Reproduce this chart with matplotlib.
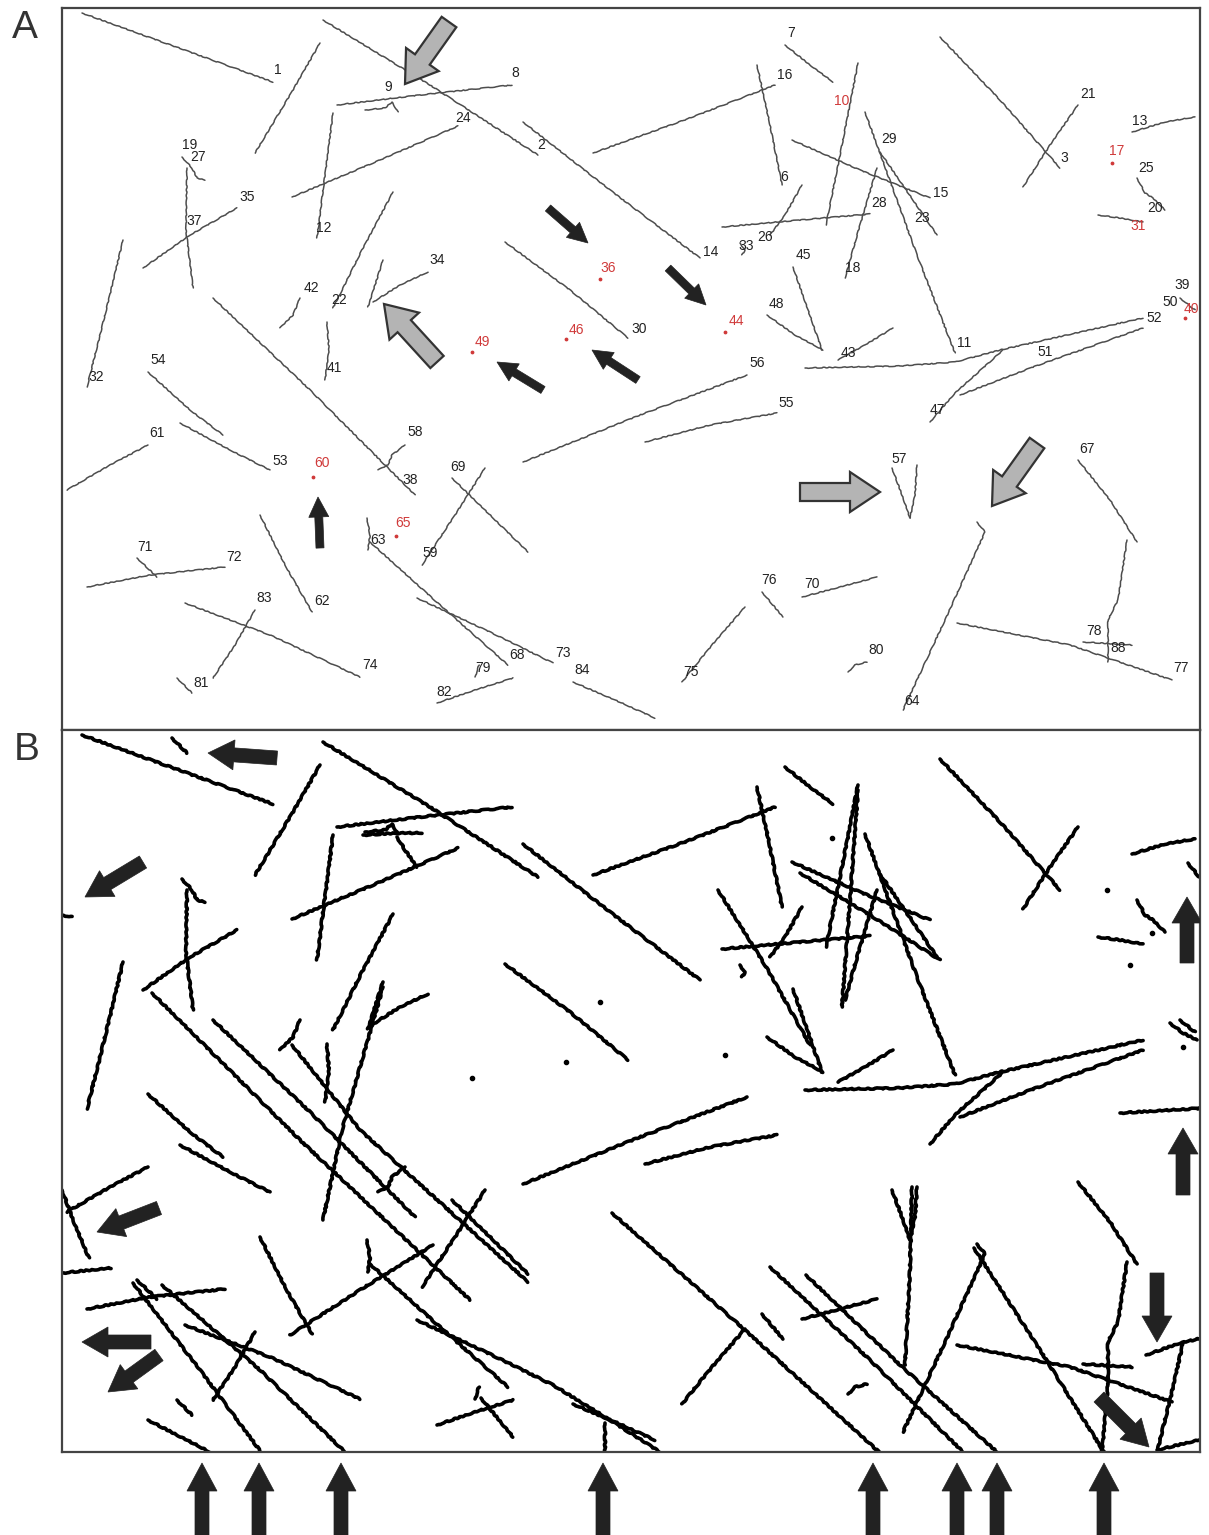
import matplotlib
matplotlib.use("Agg")
import matplotlib.pyplot as plt
from matplotlib.patches import FancyArrow

plt.rcParams['font.family'] = ['Liberation Sans', 'DejaVu Sans']

# Panel frames in figure pixels (left, top, right, bottom)
PANEL_A = (62, 8, 1200, 730)
PANEL_B = (62, 730, 1200, 1452)
B_SHIFT = 722  # panel B shows the same field, one frame later

# --- panel A: traced filaments (pixel coords of the image) ---
fil_a = [
    [(82, 13), (273, 82)],
    [(320, 43), (290, 95), (255, 153)],
    [(323, 20), (430, 85), (538, 155)],
    [(523, 122), (610, 190), (700, 258)],
    [(337, 105), (420, 95), (512, 85)],
    [(365, 110), (385, 108), (392, 102), (398, 112)],
    [(333, 113), (325, 175), (317, 238)],
    [(292, 197), (380, 160), (458, 126)],
    [(187, 168), (186, 230), (193, 288)],
    [(182, 157), (192, 168), (197, 178), (205, 180)],
    [(143, 268), (190, 235), (237, 208)],
    [(393, 192), (362, 250), (333, 308)],
    [(123, 240), (105, 315), (87, 387)],
    [(300, 298), (293, 315), (280, 328)],
    [(327, 322), (329, 350), (325, 380)],
    [(383, 260), (368, 307)],
    [(373, 302), (400, 285), (428, 272)],
    [(213, 298), (310, 390), (415, 495)],
    [(148, 372), (190, 410), (223, 435)],
    [(180, 423), (230, 450), (270, 470)],
    [(148, 445), (110, 465), (67, 490)],
    [(405, 445), (392, 455), (388, 465), (378, 470)],
    [(87, 587), (150, 575), (225, 567)],
    [(137, 558), (157, 577)],
    [(260, 515), (285, 565), (312, 612)],
    [(185, 603), (270, 635), (360, 677)],
    [(255, 610), (235, 645), (213, 678)],
    [(177, 678), (192, 693)],
    [(367, 518), (370, 535), (368, 550)],
    [(370, 542), (440, 605), (508, 665)],
    [(417, 598), (490, 632), (553, 663)],
    [(485, 468), (455, 515), (422, 565)],
    [(452, 478), (490, 515), (528, 552)],
    [(437, 703), (475, 690), (513, 678)],
    [(475, 677), (479, 665)],
    [(573, 682), (615, 700), (655, 718)],
    [(745, 607), (712, 645), (682, 682)],
    [(762, 592), (783, 617)],
    [(802, 597), (840, 587), (877, 577)],
    [(892, 468), (902, 495), (910, 518)],
    [(917, 465), (915, 495), (910, 518)],
    [(977, 522), (985, 532), (945, 620), (903, 710)],
    [(848, 672), (855, 665), (867, 662)],
    [(957, 623), (1070, 645), (1172, 680)],
    [(1078, 460), (1110, 500), (1137, 542)],
    [(1127, 540), (1118, 600), (1108, 620), (1108, 662)],
    [(1083, 642), (1132, 645)],
    [(893, 328), (865, 345), (838, 360)],
    [(805, 368), (900, 366), (955, 362), (1000, 350), (1143, 318)],
    [(960, 395), (1033, 367), (1143, 328)],
    [(930, 422), (955, 393), (1003, 350)],
    [(1180, 298), (1195, 310)],
    [(858, 63), (842, 145), (826, 225)],
    [(865, 112), (917, 255), (955, 353)],
    [(880, 152), (937, 235)],
    [(877, 168), (860, 225), (845, 278)],
    [(792, 140), (860, 170), (930, 198)],
    [(722, 227), (800, 220), (870, 214)],
    [(757, 65), (770, 125), (782, 185)],
    [(593, 153), (690, 118), (775, 85)],
    [(785, 45), (810, 65), (833, 82)],
    [(802, 185), (785, 215), (770, 235)],
    [(740, 243), (745, 250), (742, 255)],
    [(940, 37), (1000, 100), (1060, 168)],
    [(1078, 105), (1050, 145), (1023, 187)],
    [(1132, 132), (1165, 122), (1195, 117)],
    [(1137, 178), (1145, 193), (1153, 198), (1165, 210)],
    [(1098, 215), (1120, 218), (1143, 222)],
    [(793, 267), (808, 310), (822, 350)],
    [(767, 315), (795, 335), (823, 350)],
    [(505, 242), (570, 290), (628, 338)],
    [(523, 462), (640, 415), (747, 375)],
    [(645, 442), (710, 425), (777, 413)],
]

# filament numbers, black
labels_a = [
    ("1", 278, 70), ("9", 388, 87), ("8", 515, 73), ("24", 463, 118), ("2", 541, 145),
    ("19", 190, 145), ("27", 198, 157), ("35", 247, 197), ("37", 194, 221), ("12", 324, 228),
    ("7", 791, 33), ("16", 785, 75), ("21", 1088, 94), ("13", 1140, 121), ("29", 889, 139),
    ("3", 1064, 158), ("25", 1146, 168), ("6", 784, 177), ("15", 941, 193), ("28", 879, 203),
    ("23", 922, 218), ("20", 1155, 208), ("26", 765, 237), ("33", 746, 246), ("14", 711, 252),
    ("45", 803, 255), ("18", 853, 268), ("34", 437, 260), ("42", 311, 288), ("22", 339, 300),
    ("48", 776, 304), ("39", 1182, 285), ("50", 1170, 302), ("52", 1154, 318), ("30", 639, 329),
    ("11", 964, 343), ("43", 848, 353), ("51", 1045, 352), ("41", 334, 368), ("32", 96, 377),
    ("56", 757, 363), ("54", 158, 360), ("55", 786, 403), ("47", 937, 410), ("61", 157, 433),
    ("58", 415, 432), ("53", 280, 461), ("69", 458, 467), ("57", 899, 459), ("38", 410, 480),
    ("67", 1087, 449), ("63", 378, 540), ("59", 430, 553), ("71", 145, 547), ("72", 234, 557),
    ("76", 769, 580), ("70", 812, 584), ("83", 264, 598), ("62", 322, 601), ("78", 1094, 631),
    ("88", 1118, 648), ("74", 370, 665), ("68", 517, 655), ("73", 563, 653), ("80", 876, 650),
    ("77", 1181, 668), ("79", 483, 668), ("84", 582, 670), ("75", 691, 672), ("81", 201, 683),
    ("82", 444, 692), ("64", 912, 701),
]
# filament numbers in red (dots with no filament left)
labels_a_red = [
    ("10", 842, 101), ("17", 1117, 151), ("31", 1138, 226), ("36", 608, 268), ("40", 1191, 309),
    ("44", 736, 321), ("46", 576, 330), ("49", 482, 342), ("60", 322, 463), ("65", 403, 523),
]
dots_a = [(600, 279), (725, 332), (566, 339), (472, 352), (313, 477), (396, 536), (1112, 163), (1185, 318)]

arrows_a_grey = [((449, 22), (405, 84)), ((437, 362), (384, 304)),
                 ((800, 492), (880, 492)), ((1037, 443), (992, 506))]
arrows_a_black = [((548, 208), (588, 243)), ((668, 268), (706, 305)), ((638, 380), (592, 350)),
                  ((543, 390), (497, 362)), ((320, 548), (318, 497))]

# --- panel B: filaments that only show up (or grew) in the later frame ---
fil_b_extra = [
    [(172, 738), (187, 753)],
    [(363, 835), (397, 833), (422, 833)],
    [(397, 837), (405, 850), (417, 867)],
    [(152, 993), (300, 1140), (470, 1300)],
    [(292, 1045), (360, 1130), (528, 1282)],
    [(383, 987), (342, 1130), (323, 1220)],
    [(433, 1245), (360, 1290), (290, 1335)],
    [(62, 1190), (75, 1225), (89, 1258)],
    [(62, 1273), (111, 1268)],
    [(133, 1283), (200, 1370), (261, 1452)],
    [(162, 1285), (260, 1370), (345, 1452)],
    [(148, 1420), (210, 1452)],
    [(553, 1385), (610, 1420), (660, 1452)],
    [(481, 1398), (513, 1437)],
    [(605, 1423), (605, 1452)],
    [(612, 1213), (745, 1330), (879, 1452)],
    [(770, 1267), (870, 1360), (963, 1452)],
    [(806, 1275), (900, 1365), (997, 1452)],
    [(912, 1187), (910, 1270), (905, 1365)],
    [(974, 1248), (1040, 1350), (1104, 1452)],
    [(1108, 1384), (1102, 1452)],
    [(1146, 1355), (1180, 1343), (1207, 1337)],
    [(1183, 1343), (1170, 1400), (1157, 1452)],
    [(1157, 1450), (1207, 1438)],
    [(1120, 1113), (1205, 1108)],
    [(1188, 863), (1200, 878)],
    [(1170, 1023), (1183, 1033), (1197, 1040)],
    [(718, 890), (765, 965), (810, 1045)],
    [(800, 873), (870, 915), (940, 960)],
    [(858, 790), (850, 900), (842, 1007)],
    [(62, 915), (72, 917)],
]
dots_b = [(600, 1002), (472, 1078), (566, 1062), (725, 1055), (832, 838),
          (1107, 890), (1130, 965), (1183, 1047), (1152, 933)]

arrows_b = [((277, 758), (208, 753)), ((143, 862), (85, 897)), ((1187, 963), (1187, 897)),
            ((1183, 1195), (1183, 1128)), ((159, 1208), (97, 1232)), ((151, 1342), (82, 1342)),
            ((159, 1355), (108, 1392)), ((1157, 1273), (1157, 1342)), ((1099, 1397), (1149, 1447))]

# arrows under panel B marking filaments that reach the lower edge
bottom_arrow_x = [202, 259, 341, 603, 873, 957, 997, 1104]


def panel_axes(fig, box):
    """Axes that sit exactly on a panel frame, using image pixel coords."""
    left, top, right, bottom = box
    W, H = 1209, 1535
    ax = fig.add_axes([left / W, 1 - bottom / H, (right - left) / W, (bottom - top) / H])
    ax.set_xlim(left, right)
    ax.set_ylim(bottom, top)
    ax.set_xticks([])
    ax.set_yticks([])
    for sp in ax.spines.values():
        sp.set_color('#444444')
        sp.set_linewidth(1.6)
    return ax


def draw_filaments(ax, filaments, color, lw, shift=0, wiggle=0.4):
    for pts in filaments:
        xs = [p[0] for p in pts]
        ys = [p[1] + shift for p in pts]
        line, = ax.plot(xs, ys, color=color, lw=lw, solid_capstyle='round')
        # slight jitter so the traces look hand-segmented rather than ruled
        line.set_sketch_params(scale=wiggle, length=14, randomness=6)


def draw_arrow(ax, tail, tip, width, head_w, head_l, face, edge, lw=1.2, zorder=5):
    dx, dy = tip[0] - tail[0], tip[1] - tail[1]
    ax.add_patch(FancyArrow(tail[0], tail[1], dx, dy, width=width, head_width=head_w,
                            head_length=head_l, length_includes_head=True,
                            facecolor=face, edgecolor=edge, linewidth=lw, zorder=zorder))


fig = plt.figure(figsize=(12.09, 15.35), dpi=100)

# Panel A
axA = panel_axes(fig, PANEL_A)
draw_filaments(axA, fil_a, '#4d4d4d', 1.1)
for txt, x, y in labels_a:
    axA.text(x, y, txt, fontsize=10, color='#222222', ha='center', va='center')
for txt, x, y in labels_a_red:
    axA.text(x, y, txt, fontsize=10, color='#d03a3a', ha='center', va='center')
axA.scatter([d[0] for d in dots_a], [d[1] for d in dots_a], s=3, color='#d03a3a', zorder=4)
for tail, tip in arrows_a_grey:
    draw_arrow(axA, tail, tip, 18, 40, 30, '#b4b4b4', '#333333', lw=1.6)
for tail, tip in arrows_a_black:
    draw_arrow(axA, tail, tip, 8, 20, 20, '#222222', '#222222', lw=0.5)

# Panel B
axB = panel_axes(fig, PANEL_B)
draw_filaments(axB, fil_a, 'black', 2.6, shift=B_SHIFT, wiggle=0.6)
draw_filaments(axB, fil_b_extra, 'black', 2.6, wiggle=0.6)
axB.scatter([d[0] for d in dots_b], [d[1] for d in dots_b], s=9, color='black', zorder=4)
for tail, tip in arrows_b:
    draw_arrow(axB, tail, tip, 14, 30, 26, '#222222', '#222222', lw=0.5)

# overlay for panel letters and the arrows below panel B
ov = fig.add_axes([0, 0, 1, 1], zorder=-1)
ov.set_xlim(0, 1209)
ov.set_ylim(1535, 0)
ov.axis('off')
ov.text(25, 28, "A", fontsize=28, color='#333333', ha='center', va='center')
ov.text(27, 750, "B", fontsize=28, color='#333333', ha='center', va='center')
for x in bottom_arrow_x:
    draw_arrow(ov, (x, 1535), (x, 1463), 14, 30, 28, '#222222', '#222222', lw=0.5)

fig.savefig("out.png", dpi=100, facecolor='white')
